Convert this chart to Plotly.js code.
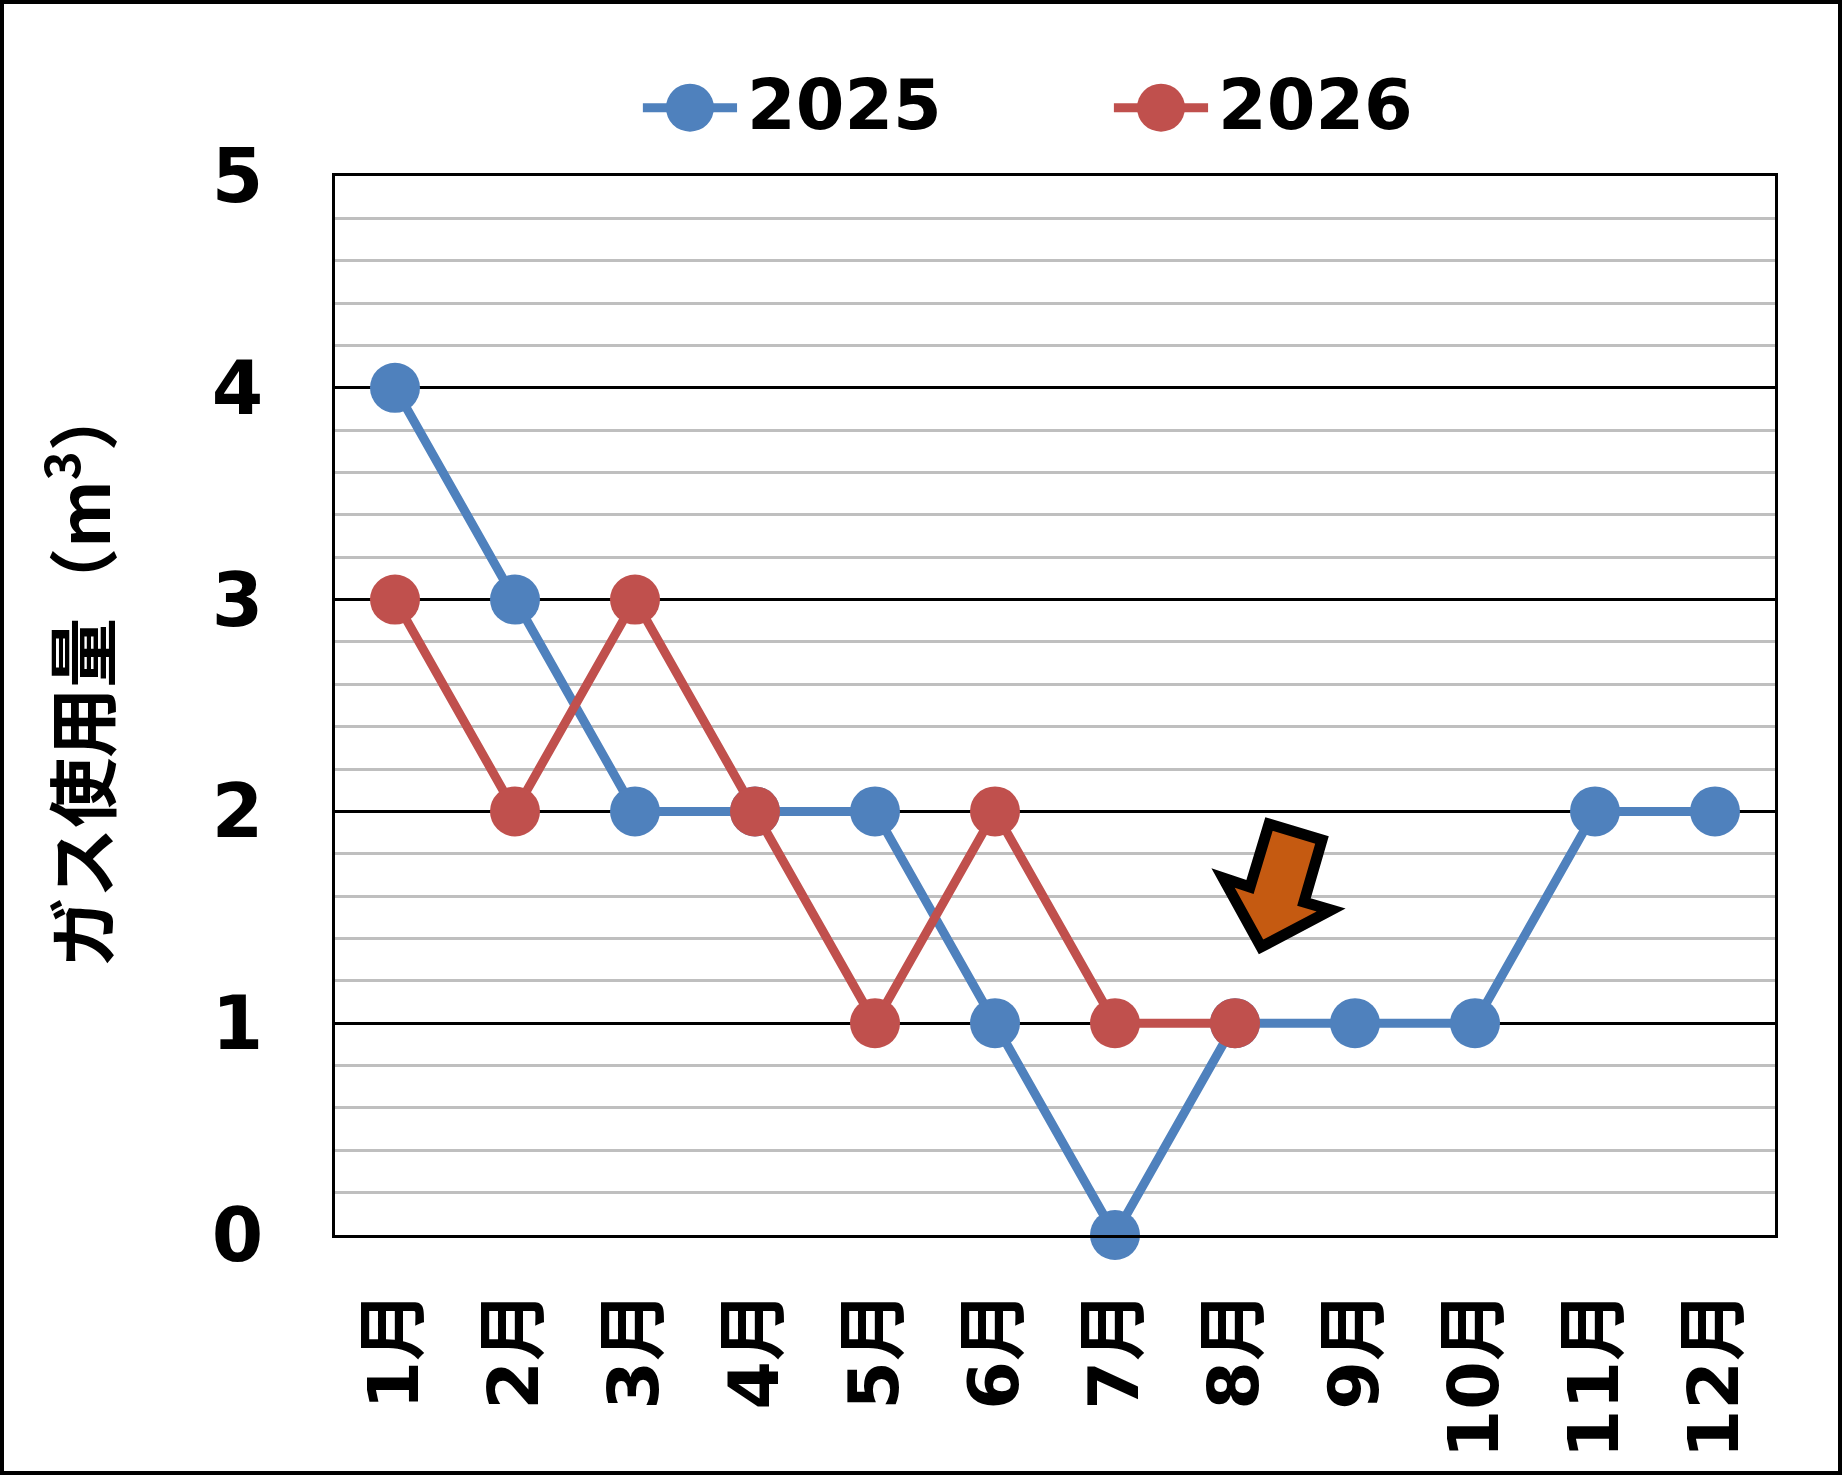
<!DOCTYPE html>
<html>
<head>
<meta charset="utf-8">
<script src="https://cdn.plot.ly/plotly-3.0.1.min.js"></script>
<style>
  body { margin: 0; background: #fff; }
  #chart { width: 1834px; height: 1467px; border: 4px solid #000; }
</style>
</head>
<body>
<div id="chart"></div>
<script>
const months = ['1月', '2月', '3月', '4月', '5月', '6月', '7月', '8月', '9月', '10月', '11月', '12月'];
const seriesNames = ['2025', '2026'];
const gas2025 = [4, 3, 2, 2, 2, 1, 0, 1, 1, 1, 2, 2];
const gas2026 = [3, 2, 3, 2, 1, 2, 1, 1];
const seriesColors = ['#4F81BD', '#C0504D'];
const yTicks = [0, 1, 2, 3, 4, 5];

// DejaVu for the digits (close to Meiryo), Noto CJK for kana/kanji
const fontFamily = '"DejaVu Sans", "Noto Sans CJK JP", sans-serif';
const cjkFamily = '"Noto Sans CJK JP", "DejaVu Sans", sans-serif';

function main() {
    const values = [gas2025, gas2026];
    const traces = values.map((v, i) => ({
        x: months.slice(0, v.length),
        y: v,
        name: seriesNames[i],
        type: 'scatter',
        mode: 'lines+markers',
        line: { color: seriesColors[i], width: 9 },
        marker: { color: seriesColors[i], size: 50 },
        cliponaxis: false,
        showlegend: false
    }));

    // legend drawn by hand so the symbols can be as big as in the chart
    const legendX = [0.2465, 0.5736];
    const legendY = 1.0645;
    const shapes = [];
    const annotations = [];
    seriesNames.forEach((name, i) => {
        shapes.push({
            type: 'line', xref: 'paper', yref: 'paper',
            x0: legendX[i] - 0.0327, x1: legendX[i] + 0.0327, y0: legendY, y1: legendY,
            line: { color: seriesColors[i], width: 9 }
        });
        shapes.push({
            type: 'circle', xref: 'paper', yref: 'paper',
            xsizemode: 'pixel', ysizemode: 'pixel',
            xanchor: legendX[i], yanchor: legendY,
            x0: -24, x1: 24, y0: -24, y1: 24,
            fillcolor: seriesColors[i], line: { width: 0 }
        });
        annotations.push({
            xref: 'paper', yref: 'paper',
            x: legendX[i] + 0.0380, y: legendY + 0.003,
            xanchor: 'left', yanchor: 'middle',
            text: name, showarrow: false,
            font: { family: fontFamily, size: 70, weight: 'bold', color: '#000' }
        });
    });

    // orange arrow pointing at 8月
    shapes.push({
        type: 'path', xref: 'paper', yref: 'paper',
        path: 'M0.6486,0.3881 L0.6854,0.3730 L0.6729,0.3144 L0.6917,0.3069 L0.6431,0.2720 L0.6167,0.3371 L0.6354,0.3286 Z',
        fillcolor: '#C55A11',
        line: { color: '#000', width: 11 }
    });

    annotations.push({
        xref: 'paper', yref: 'paper',
        x: -0.1799, y: 0.529, textangle: -90,
        xanchor: 'center', yanchor: 'middle',
        text: 'ガス使用量（m<sup>3</sup>）', showarrow: false,
        font: { family: cjkFamily, size: 70, weight: 'bold', color: '#000' }
    });

    const layout = {
        width: 1834,
        height: 1467,
        margin: { l: 331, r: 63, t: 172, b: 236 },
        paper_bgcolor: '#fff',
        plot_bgcolor: '#fff',
        showlegend: false,
        font: { family: fontFamily, color: '#000' },
        xaxis: {
            type: 'category',
            range: [-0.5, 11.5],
            tickangle: -90,
            ticklabelstandoff: 25,
            tickfont: { family: fontFamily, size: 70, weight: 'bold', color: '#000' },
            showgrid: false,
            showline: true, mirror: true, linecolor: '#000', linewidth: 3,
            ticks: '', zeroline: false, fixedrange: true
        },
        yaxis: {
            range: [0, 5],
            tickvals: yTicks,
            ticklabelstandoff: 54,
            tickfont: { family: fontFamily, size: 74, weight: 'bold', color: '#000' },
            showgrid: true, gridcolor: '#000', gridwidth: 3,
            minor: { dtick: 0.2, showgrid: true, gridcolor: '#BFBFBF', gridwidth: 3 },
            showline: true, mirror: true, linecolor: '#000', linewidth: 3,
            ticks: '', zeroline: false, fixedrange: true
        },
        shapes: shapes,
        annotations: annotations
    };

    Plotly.newPlot('chart', traces, layout, { displayModeBar: false, staticPlot: true });
}
main();
</script>
</body>
</html>
